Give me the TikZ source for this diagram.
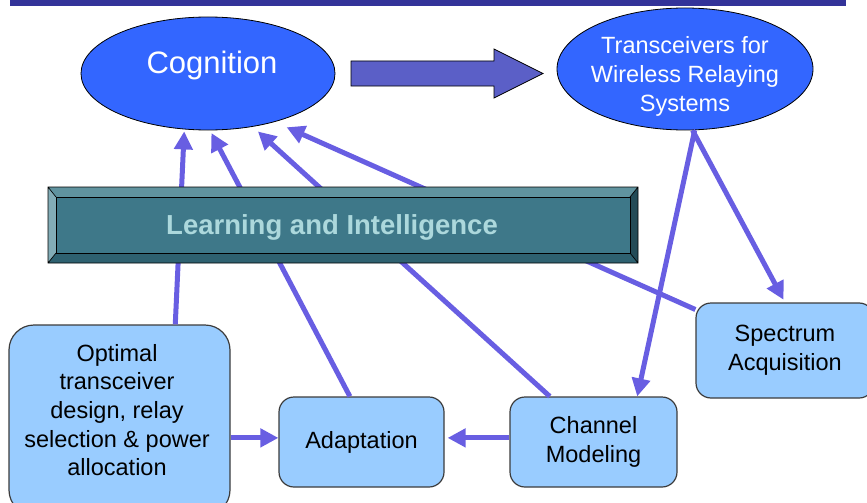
\documentclass[tikz,border=0pt]{standalone}
\usepackage{fontspec}
\setmainfont{Liberation Sans}
\usetikzlibrary{shapes.geometric,arrows.meta,calc}
\definecolor{band}{RGB}{51,51,153}
\definecolor{ellfill}{RGB}{51,102,255}
\definecolor{arrowc}{RGB}{104,94,226}
\definecolor{blockc}{RGB}{91,95,199}
\definecolor{boxfill}{RGB}{153,204,255}
\definecolor{boxline}{RGB}{60,60,60}
\definecolor{barface}{RGB}{62,120,137}
\definecolor{bartop}{RGB}{96,147,159}
\definecolor{barleft}{RGB}{130,172,182}
\definecolor{barright}{RGB}{35,75,87}
\definecolor{barbottom}{RGB}{46,97,112}
\definecolor{bartext}{RGB}{172,216,220}
\begin{document}
\begin{tikzpicture}[x=1pt,y=-1pt,
  ell/.style={ellipse, draw=black, line width=0.8pt, fill=ellfill, inner sep=0pt},
  box/.style={rectangle, draw=boxline, line width=1.2pt, fill=boxfill, rounded corners=15pt, inner sep=0pt, align=center, font=\fontsize{23.5}{29}\selectfont},
  conn/.style={draw=arrowc, line width=5pt, -{Triangle[length=18pt,width=18pt]}},
  lbl/.style={inner sep=0pt, align=center}]
\useasboundingbox (0,0) rectangle (867,503);
\clip (0,0) rectangle (867,503);
% top band
\fill[band] (10,0) rectangle (846,6);
% ellipses
\node[ell, minimum width=254pt, minimum height=113pt] (cog) at (208,73.5) {};
\node[ell, minimum width=256pt, minimum height=122pt] (tran) at (685,69) {};
% boxes
\node[box, rounded corners=25pt, minimum width=221pt, minimum height=190pt] (opt) at (119.5,420) {};
\node[box, minimum width=165pt, minimum height=90pt] (ada) at (361.5,442) {Adaptation};
\node[box, minimum width=167pt, minimum height=90pt] (chan) at (593.5,442) {Channel\\Modeling};
\node[box, minimum width=178pt, minimum height=95pt] (spec) at (785,350.5) {Spectrum\\Acquisition};
% connectors to cognition (behind the bar)
\draw[conn, shorten >=2pt] ($(opt.north west)!0.751!(opt.north east)$) -- (cog.247);
\draw[conn, shorten >=3pt] ($(ada.north west)!0.43!(ada.north east)$) -- (cog.272);
\draw[conn, shorten >=7pt] ($(chan.north west)!0.24!(chan.north east)$) -- (cog.310);
\draw[conn, shorten >=13pt] ($(spec.north west)!0.074!(spec.south west)$) -- (cog.324);
% bar
\fill[bartop] (48,187) -- (638,187) -- (630,197) -- (56,197) -- cycle;
\fill[barright] (638,187) -- (638,263) -- (630,253) -- (630,197) -- cycle;
\fill[barbottom] (48,263) -- (638,263) -- (630,253) -- (56,253) -- cycle;
\fill[barleft] (48,187) -- (48,263) -- (56,253) -- (56,197) -- cycle;
\draw[black, line width=0.7pt] (48,187) rectangle (638,263)
  (48,187) -- (56,197) (638,187) -- (630,197) (638,263) -- (630,253) (48,263) -- (56,253);
\node[draw=black, line width=0.6pt, fill=barface, minimum width=574pt, minimum height=56pt, inner sep=0pt] (bar) at (343,225) {};
\node[lbl, text=bartext, font=\fontsize{27.5}{32}\selectfont\bfseries] (barl) at (332,227) {Learning and Intelligence};
% block arrow
\draw[fill=blockc, line width=0.8pt] (351,61) -- (494,61) -- (494,49) -- (543,73.5) -- (494,98) -- (494,86) -- (351,86) -- cycle;
% transceiver connectors
\draw[conn] (tran.279) -- ($(chan.north west)!0.76!(chan.north east)$);
\draw[conn, shorten >=3pt] (tran.277) -- (spec.north);
% horizontal connectors
\coordinate (adaL) at ($(ada.north west)!0.455!(ada.south west)$);
\coordinate (adaR) at ($(ada.north east)!0.455!(ada.south east)$);
\draw[conn] (opt.east |- adaL) -- (adaL);
\draw[conn, shorten >=3pt] (chan.west |- adaR) -- (adaR);
% labels
\node[lbl, text=white, font=\fontsize{31}{36}\selectfont] (cogl) at (212,65) {Cognition};
\node[lbl, text=white, font=\fontsize{23.5}{29}\selectfont] (tranl) at (685,76) {Transceivers for\\Wireless Relaying\\Systems};
\node[lbl, font=\fontsize{23.5}{28.7}\selectfont] (optl) at (117,410) {Optimal\\transceiver\\design, relay\\selection \& power\\allocation};
\end{tikzpicture}
\end{document}
